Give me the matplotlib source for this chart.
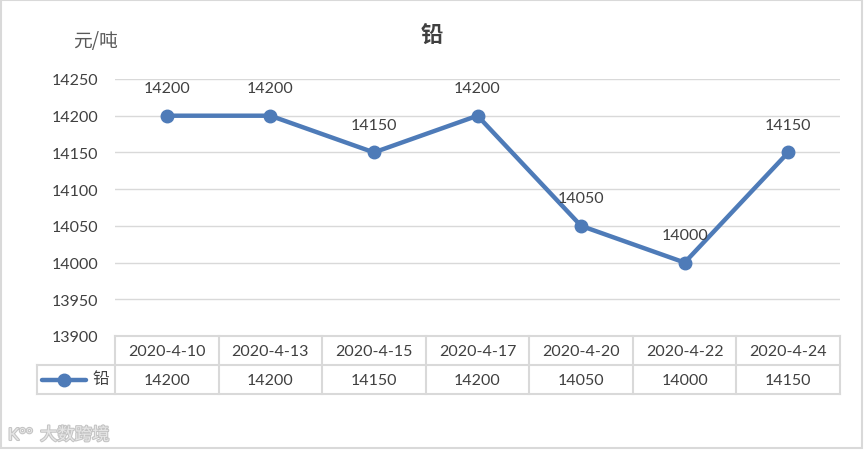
import matplotlib
matplotlib.use("Agg")
import matplotlib.pyplot as plt
from matplotlib.lines import Line2D
from matplotlib.patches import Rectangle
import matplotlib.patheffects as pe

plt.rcParams['font.family'] = ['Lato', 'Noto Sans CJK SC', 'DejaVu Sans']

dates = ["2020-4-10", "2020-4-13", "2020-4-15", "2020-4-17", "2020-4-20", "2020-4-22", "2020-4-24"]
values = [14200, 14200, 14150, 14200, 14050, 14000, 14150]
series_name = "铅"
title = "铅"
unit = "元/吨"
yticks = [13900, 13950, 14000, 14050, 14100, 14150, 14200, 14250]

W, H = 865, 452
fig = plt.figure(figsize=(W / 100, H / 100), dpi=100)

def fx(px):
    return px / W

def fy(py):
    return 1 - py / H

line_color = "#4E7BB8"
text_color = "#404040"
grid_color = "#D9D9D9"
fs = 11.5

left_px, right_px, top_px, bottom_px = 115, 840, 80, 337
ax = fig.add_axes([fx(left_px), fy(bottom_px), fx(right_px) - fx(left_px), fy(top_px) - fy(bottom_px)])
n = len(dates)
xs = list(range(n))
ax.set_xlim(-0.5, n - 0.5)
ax.set_ylim(yticks[0], yticks[-1])
ax.set_yticks(yticks)
ax.set_yticklabels([str(v) for v in yticks], fontsize=fs, color=text_color)
ax.tick_params(axis='y', length=0, pad=12)
ax.set_xticks([])
for s in ax.spines.values():
    s.set_visible(False)
for v in yticks:
    ax.axhline(v, color=grid_color, lw=1.0, zorder=0)

ax.plot(xs, values, color=line_color, lw=3.2, marker='o', markersize=9,
        markerfacecolor=line_color, markeredgecolor=line_color, zorder=3, clip_on=False)
for x, v in zip(xs, values):
    ax.annotate(str(v), (x, v), xytext=(0, 20), textcoords='offset points',
                ha='center', va='center', fontsize=fs, color=text_color, annotation_clip=False)

# title and unit
fig.text(fx(432), fy(35), title, ha='center', va='center', fontsize=16, fontweight='bold',
         color=text_color, family=['Noto Sans CJK SC', 'DejaVu Sans'])
fig.text(fx(96), fy(41), unit, ha='center', va='center', fontsize=13.5, color="#595959",
         family=['Noto Sans CJK SC', 'DejaVu Sans'])

# data table
row_top, row_mid, row_bot = 337, 366, 395
legend_left = 37
colw = (right_px - left_px) / n

def hline(x0, x1, y):
    fig.add_artist(Line2D([fx(x0), fx(x1)], [fy(y), fy(y)], color=grid_color, lw=1.5))

def vline(x, y0, y1):
    fig.add_artist(Line2D([fx(x), fx(x)], [fy(y0), fy(y1)], color=grid_color, lw=1.5))

hline(left_px, right_px, row_top)
hline(legend_left, right_px, row_mid)
hline(legend_left, right_px, row_bot)
vline(legend_left, row_mid, row_bot)
for i in range(n + 1):
    vline(left_px + i * colw, row_top, row_bot)

for i, (d, v) in enumerate(zip(dates, values)):
    cx = left_px + (i + 0.5) * colw
    fig.text(fx(cx), fy(352), d, ha='center', va='center', fontsize=fs, color=text_color)
    fig.text(fx(cx), fy(381), str(v), ha='center', va='center', fontsize=fs, color=text_color)

# legend key in table
fig.add_artist(Line2D([fx(42), fx(86)], [fy(381), fy(381)], color=line_color, lw=3.2,
                      solid_capstyle='round'))
fig.add_artist(Line2D([fx(64)], [fy(381)], color=line_color, marker='o', markersize=9, lw=0))
fig.text(fx(101), fy(380), series_name, ha='center', va='center', fontsize=12, color=text_color,
         family=['Noto Sans CJK SC', 'DejaVu Sans'])

# watermark
fig.text(fx(40), fy(436), "大数跨境", ha='left', va='center', fontsize=12.5, color="#E6E6E6",
         family=['Noto Sans CJK SC', 'DejaVu Sans'],
         path_effects=[pe.withStroke(linewidth=1.5, foreground="#C4C4C4")])
fig.text(fx(8), fy(436), "K°°", ha='left', va='center', fontsize=12, color="#E6E6E6",
         path_effects=[pe.withStroke(linewidth=1.5, foreground="#C4C4C4")])

# outer border
fig.add_artist(Rectangle((fx(1), fy(449)), fx(861), fy(1) - fy(449), fill=False,
                         edgecolor=grid_color, lw=1.5, transform=fig.transFigure))

fig.savefig("out.png", dpi=100, facecolor='white')
